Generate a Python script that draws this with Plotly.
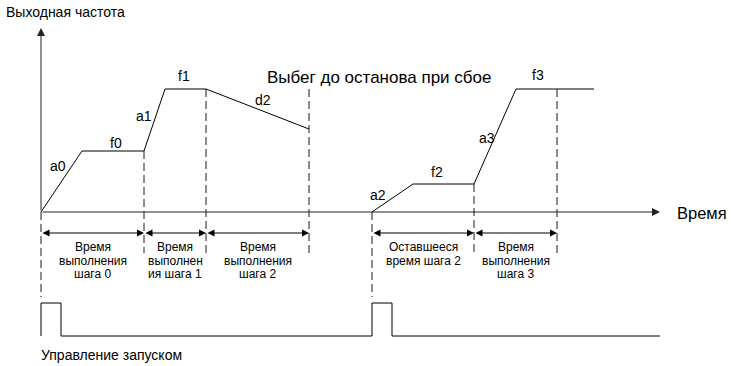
import plotly.graph_objects as go

# time / frequency in screen-ish units, origin at the axes crossing
run1_t = [0, 41, 103, 124, 165, 268]
run1_f = [0, 61, 61, 123, 123, 83]
run2_t = [331, 372, 433, 475, 553]
run2_f = [0, 28, 28, 123, 123]

seg_names = ["a0", "f0", "a1", "f1", "d2", "a2", "f2", "a3", "f3"]
seg_label_t = [17, 75, 103, 143, 222, 337, 396, 446, 497]
seg_label_f = [46, 69, 96, 136, 112, 17, 40, 74, 137]

# step boundaries: time, top of dashed line, bottom of dashed line
bound_t = [0, 103, 165, 268, 331, 433, 516]
bound_top = [0, 61, 123, 123, 0, 28, 123]
bound_bot = [-85, -41, -41, -41, -85, -41, -41]

# step duration intervals and their captions
step_start = [0, 103, 165, 331, 433]
step_end = [103, 165, 268, 433, 516]
step_text = [
    "Время\nвыполнения\nшага 0",
    "Время\nвыполнен\nия шага 1",
    "Время\nвыполнения\nшага 2",
    "Оставшееся\nвремя шага 2",
    "Время\nвыполнения\nшага 3",
]

# run command pulses
pulse_t = [0, 331]
pulse_w = 20
ctrl_low = -124
ctrl_high = -91
ctrl_end = 619

FONT = "Liberation Sans, Arial, sans-serif"
BLACK = "#000000"

fig = go.Figure()

for t, f in [(run1_t, run1_f), (run2_t, run2_f)]:
    fig.add_trace(go.Scatter(x=t, y=f, mode="lines",
                             line=dict(color=BLACK, width=1), hoverinfo="skip"))

for t, top, bot in zip(bound_t, bound_top, bound_bot):
    fig.add_trace(go.Scatter(x=[t, t], y=[top, bot], mode="lines",
                             line=dict(color="#1a1a1a", width=1, dash="8px,4px"),
                             hoverinfo="skip"))

# control signal
ct, cf = [0], [ctrl_low]
for p in pulse_t:
    ct += [p, p, p + pulse_w, p + pulse_w]
    cf += [ctrl_low, ctrl_high, ctrl_high, ctrl_low]
ct.append(ctrl_end)
cf.append(ctrl_low)
fig.add_trace(go.Scatter(x=ct, y=cf, mode="lines",
                         line=dict(color=BLACK, width=1), hoverinfo="skip"))

ann = []
# axes with arrows
ann.append(dict(x=0, y=184, ax=0, ay=0, xref="x", yref="y", axref="x", ayref="y",
                showarrow=True, arrowhead=2, arrowsize=1.6, arrowwidth=1,
                arrowcolor="#222222", text=""))
ann.append(dict(x=619, y=0, ax=0, ay=0, xref="x", yref="y", axref="x", ayref="y",
                showarrow=True, arrowhead=2, arrowsize=1.6, arrowwidth=1,
                arrowcolor="#222222", text=""))

# dimension arrows
for s, e in zip(step_start, step_end):
    ann.append(dict(x=e, y=-21, ax=s, ay=-21, xref="x", yref="y", axref="x", ayref="y",
                    showarrow=True, arrowhead=2, startarrowhead=2, arrowside="end+start",
                    arrowsize=1.4, arrowwidth=1, arrowcolor=BLACK, text=""))

# captions, one annotation per line to get the tight line spacing
for s, e, txt in zip(step_start, step_end, step_text):
    for i, line in enumerate(txt.split("\n")):
        ann.append(dict(x=(s + e) / 2, y=-35 - i * 13.7, xref="x", yref="y", text=line,
                        showarrow=False, yanchor="middle",
                        font=dict(family=FONT, size=12, color=BLACK)))

for name, t, f in zip(seg_names, seg_label_t, seg_label_f):
    ann.append(dict(x=t, y=f, xref="x", yref="y", text=name, showarrow=False,
                    font=dict(family=FONT, size=14, color=BLACK)))

ann.append(dict(x=-37, y=200, xref="x", yref="y", text="Выходная частота",
                showarrow=False, xanchor="left", font=dict(family=FONT, size=14, color=BLACK)))
ann.append(dict(x=338, y=135, xref="x", yref="y", text="Выбег до останова при сбое",
                showarrow=False, font=dict(family=FONT, size=17, color=BLACK)))
ann.append(dict(x=634, y=-1, xref="x", yref="y", text="Время", showarrow=False,
                xanchor="left", font=dict(family=FONT, size=16.5, color=BLACK)))
ann.append(dict(x=-2, y=-143, xref="x", yref="y", text="Управление запуском",
                showarrow=False, xanchor="left", font=dict(family=FONT, size=14, color=BLACK)))

fig.update_layout(
    width=731, height=366,
    margin=dict(l=0, r=0, t=0, b=0),
    paper_bgcolor="white", plot_bgcolor="white",
    showlegend=False,
    xaxis=dict(range=[-41, 690], visible=False, fixedrange=True),
    yaxis=dict(range=[-154, 212], visible=False, fixedrange=True),
    annotations=ann,
)

fig.write_html("out.html", config={"displayModeBar": False},
               post_script="document.body.style.margin='0';document.body.style.overflow='hidden';")
